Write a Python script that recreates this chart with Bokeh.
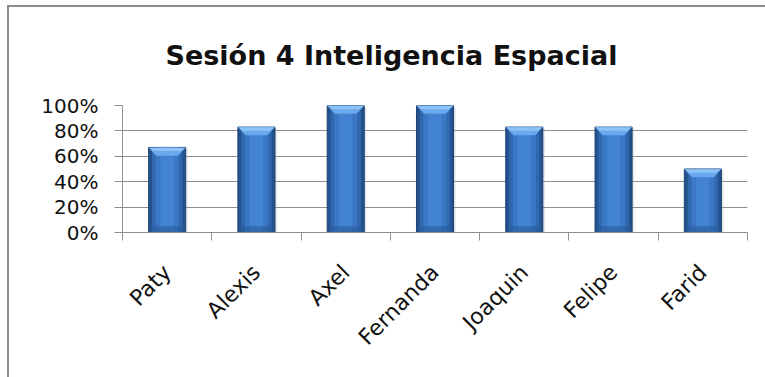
import numpy as np
from math import pi
from bokeh.plotting import figure
from bokeh.models import FixedTicker, NumeralTickFormatter, ColumnDataSource
from bokeh.embed import file_html
from bokeh.resources import INLINE

# ---- data ----
names = ["Paty", "Alexis", "Axel", "Fernanda", "Joaquin", "Felipe", "Farid"]
values = [0.67, 0.83, 1.0, 1.0, 0.83, 0.83, 0.50]
y_ticks = [0.0, 0.2, 0.4, 0.6, 0.8, 1.0]
title_text = "Sesión 4 Inteligencia Espacial"

FONT = "DejaVu Sans"

x = np.arange(len(names)) + 0.5
v = np.array(values)

# chart-box border (left and top edges) painted behind a transparent canvas
box_styles = {
    "background-color": "#ffffff",
    "background-image": "linear-gradient(#8c8c8c, #8c8c8c), linear-gradient(#8c8c8c, #8c8c8c)",
    "background-size": "2px 100%, 100% 2px",
    "background-position": "7px 5px, 7px 5px",
    "background-repeat": "no-repeat",
}

p = figure(width=765, height=377, x_range=(0, len(names)), y_range=(0, 1),
           output_backend="svg", toolbar_location=None,
           min_border_left=122, min_border_right=18, min_border_top=105,
           min_border_bottom=145, outline_line_color=None,
           border_fill_color=None, background_fill_color="#ffffff",
           styles=box_styles)

# title
p.title.text = title_text
p.title.text_font = FONT
p.title.text_font_size = "27px"
p.title.text_font_style = "bold"
p.title.text_color = "#111111"
p.title.align = "left"
p.title.offset = 43
p.title.standoff = 70

# bars (layered to imitate the bevelled gradient look)
W = 0.415
src = ColumnDataSource(dict(x=x, top=v))
# soft shadow
p.vbar(x=x + 0.025, top=v - 0.01, bottom=-0.02, width=W, fill_color="#9aa6b5",
       fill_alpha=0.25, line_color=None)
p.vbar(x="x", top="top", width=W, source=src, fill_color="#24528f",
       line_color="#1d416f", line_width=1)
p.vbar(x="x", top="top", width=W * 0.82, source=src, fill_color="#3068b0",
       line_color=None)
p.vbar(x="x", top="top", width=W * 0.62, source=src, fill_color="#3a78c6",
       line_color=None)
p.vbar(x="x", top="top", width=W * 0.36, source=src, fill_color="#4283d2",
       line_color=None)
# darker base band
p.vbar(x=x, top=0.05, bottom=0, width=W * 0.9, fill_color="#2a5a97",
       fill_alpha=0.6, line_color=None)

# top bevel
bh = 0.065   # bevel height in data units
bd = 0.085   # bevel inset in x units
xs = [[xi - W / 2, xi + W / 2, xi + W / 2 - bd, xi - W / 2 + bd] for xi in x]
ys = [[vi, vi, vi - bh, vi - bh] for vi in v]
p.patches(xs, ys, fill_color="#6aa9ec", line_color=None)
xs2 = [[xi - W / 2 + 0.01, xi + W / 2 - 0.01, xi + W / 2 - 0.05, xi - W / 2 + 0.05] for xi in x]
ys2 = [[vi - 0.004, vi - 0.004, vi - bh * 0.45, vi - bh * 0.45] for vi in v]
p.patches(xs2, ys2, fill_color="#8cc2f6", line_color=None)

# grid
p.xgrid.grid_line_color = None
p.ygrid.ticker = FixedTicker(ticks=y_ticks)
p.ygrid.grid_line_color = "#8f8f8f"
p.ygrid.grid_line_width = 1

# y axis
ya = p.yaxis[0]
ya.ticker = FixedTicker(ticks=y_ticks)
ya.formatter = NumeralTickFormatter(format="0%")
ya.axis_line_color = "#8f8f8f"
ya.major_tick_line_color = "#8f8f8f"
ya.major_tick_in = 0
ya.major_tick_out = 8
ya.minor_tick_line_color = None
ya.major_label_text_font = FONT
ya.major_label_text_font_size = "20px"
ya.major_label_text_color = "#111111"
ya.major_label_standoff = 16

# x axis: labels at centers, tick marks between categories
xa = p.xaxis[0]
xa.ticker = FixedTicker(ticks=list(x), minor_ticks=list(range(len(names) + 1)))
xa.major_label_overrides = {float(xi): n for xi, n in zip(x, names)}
xa.axis_line_color = "#8f8f8f"
xa.major_tick_in = 0
xa.major_tick_out = 0
xa.major_tick_line_color = None
xa.minor_tick_in = 0
xa.minor_tick_out = 8
xa.minor_tick_line_color = "#8f8f8f"
xa.major_label_orientation = pi / 4
xa.major_label_text_font = FONT
xa.major_label_text_font_size = "22px"
xa.major_label_text_color = "#111111"
xa.major_label_standoff = 28

open("out.html", "w").write(file_html(p, INLINE))
